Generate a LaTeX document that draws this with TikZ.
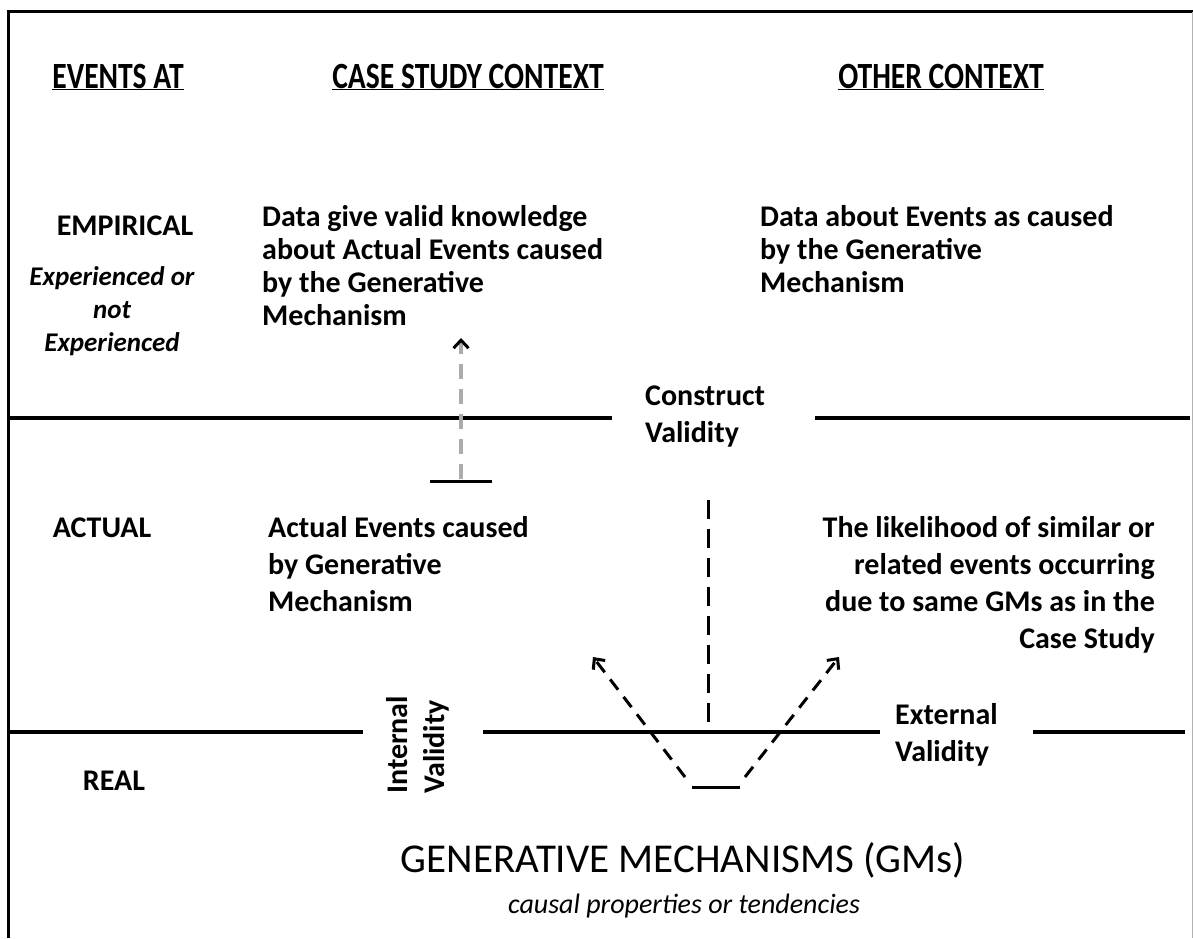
\documentclass[tikz,border=0pt]{standalone}
\usepackage{fontspec}
\setmainfont{Carlito}
\newfontfamily\narrowfont{Carlito}[FakeStretch=0.8]
\usetikzlibrary{arrows.meta}
\begin{document}
\begin{tikzpicture}[x=1pt,y=-1pt,
  txt/.style={inner sep=0pt, font=\bfseries\fontsize{30}{33}\selectfont},
  txtwide/.style={inner sep=0pt, font=\bfseries\fontsize{30}{37}\selectfont},
  head/.style={inner sep=0pt, font=\narrowfont\bfseries\fontsize{37}{40}\selectfont},
  rule/.style={line width=3.2pt},
  frame/.style={line width=3pt},
  dashline/.style={line width=3pt, dash pattern=on 13pt off 9pt},
  longdash/.style={line width=3pt, dash pattern=on 19pt off 10pt},
  tip/.style={-{Straight Barb[length=8pt,width=15pt,line width=3pt,color=black]}}
]
\useasboundingbox (0,0) rectangle (1193,938);

% outer frame
\draw[frame] (7,11) -- (1193,11);
\draw[frame] (8.5,9.5) -- (8.5,938);
\draw[gray!60, line width=1pt] (1192,12) -- (1192,938);

% column headings
\node[head, anchor=base] (hEvents) at (118,88) {\underline{EVENTS AT}};
\node[head, anchor=base] (hCase) at (468,88) {\underline{CASE STUDY CONTEXT}};
\node[head, anchor=base] (hOther) at (941,88) {\underline{OTHER CONTEXT}};

% row labels (multi-line nodes are placed by the baseline of their last line)
\node[txt, anchor=base] (rEmp) at (125,235) {EMPIRICAL};
\node[txt, anchor=base, align=center, font=\bfseries\itshape\fontsize{27}{33}\selectfont]
  (rEmpSub) at (112,351) {Experienced or\\not\\Experienced};
\node[txt, anchor=base] (rAct) at (102,537) {ACTUAL};
\node[txt, anchor=base] (rReal) at (114,790) {REAL};

% level boundaries
\draw[rule] (8,418) -- (612,418);
\draw[rule] (815,418) -- (1190,418);
\draw[rule] (8,732) -- (363,732);
\draw[rule] (483,732) -- (880,732);
\draw[rule] (1033,732) -- (1185,732);

% cell texts
\node[txt, anchor=base west, align=left] (empCase) at (262,325)
  {Data give valid knowledge\\about Actual Events caused\\by the Generative\\Mechanism};
\node[txt, anchor=base west, align=left] (empOther) at (760,292)
  {Data about Events as caused\\by the Generative\\Mechanism};
\node[txtwide, anchor=base west, align=left] (actCase) at (268,611)
  {Actual Events caused\\by Generative\\Mechanism};
\node[txtwide, anchor=base east, align=right] (actOther) at (1155,648)
  {The likelihood of similar or\\related events occurring\\due to same GMs as in the\\Case Study};

% validity labels
\node[txtwide, anchor=base west, align=left] (construct) at (645,442) {Construct\\Validity};
\node[txtwide, anchor=base west, align=left] (external) at (895,761) {External\\Validity};
\node[txtwide, anchor=base west, align=left, rotate=90] (internal) at (444,794) {Internal\\Validity};

% generative mechanisms
\node[inner sep=0pt, anchor=base, font=\fontsize{41}{45}\selectfont] (gm) at (683,872)
  {GENERATIVE MECHANISMS (GMs)};
\node[inner sep=0pt, anchor=base, font=\itshape\fontsize{28}{32}\selectfont] (gmSub) at (684,913)
  {causal properties or tendencies};

% construct validity arrow: grey dashed shaft, black tip
\coordinate (cvL) at (430,481);
\coordinate (cvR) at (492,481);
\coordinate (cvFoot) at (461,479);
\coordinate (cvTip) at (461,338);
\draw[line width=3pt] (cvL) -- (cvR);
\draw[gray!65, line width=3.5pt, dash pattern=on 15pt off 10pt, tip] (cvFoot) -- (cvTip);

% internal / external validity arrows
\coordinate (gmL) at (692,787);
\coordinate (gmR) at (740,787);
\coordinate (ivFoot) at (685,777);
\coordinate (ivTip) at (593,657);
\coordinate (evFoot) at (745,777);
\coordinate (evTip) at (839,657);
\coordinate (midTop) at (708,500);
\coordinate (midBot) at (708,732);
\draw[line width=3pt] (gmL) -- (gmR);
\draw[dashline, tip] (ivFoot) -- (ivTip);
\draw[dashline, tip] (evFoot) -- (evTip);
\draw[longdash] (midTop) -- (midBot);
\end{tikzpicture}
\end{document}
